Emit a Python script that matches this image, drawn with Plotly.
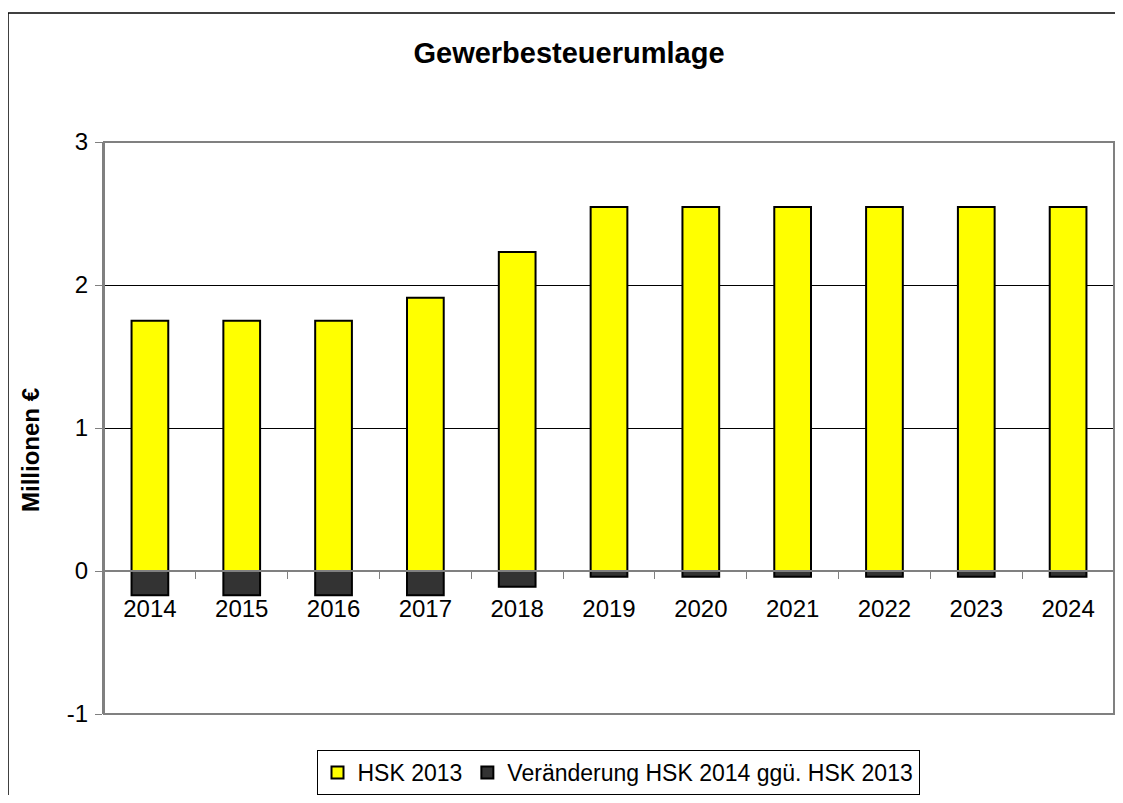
import plotly.graph_objects as go

years = ["2014", "2015", "2016", "2017", "2018", "2019", "2020", "2021", "2022", "2023", "2024"]
hsk2013 = [1.75, 1.75, 1.75, 1.91, 2.23, 2.545, 2.545, 2.545, 2.545, 2.545, 2.545]
change = [-0.17, -0.17, -0.17, -0.17, -0.11, -0.04, -0.04, -0.04, -0.04, -0.04, -0.04]
y_ticks = [-1, 0, 1, 2, 3]

# page body has 8px margin; work in page coordinates and subtract the offset
OFF = 8
W, H = 1123 - 2 * OFF, 803 - 2 * OFF
L, R, T, B = 104 - OFF, 1114 - OFF, 142 - OFF, 714 - OFF
FONT = "Arial, Liberation Sans, sans-serif"

def px_x(px):
    return (px - OFF - L) / (R - L)

def px_y(py):
    return (B - (py - OFF)) / (B - T)

fig = go.Figure()
fig.add_trace(go.Bar(x=years, y=hsk2013, name="HSK 2013",
                     marker=dict(color="#FFFF00", line=dict(color="black", width=2)),
                     width=0.4))
fig.add_trace(go.Bar(x=years, y=change, name="Veränderung HSK 2014 ggü. HSK 2013",
                     marker=dict(color="#333333", line=dict(color="black", width=2)),
                     width=0.4))

ymin, ymax = y_ticks[0], y_ticks[-1]
fig.update_layout(
    width=W, height=H,
    margin=dict(l=L, r=W - R, t=T, b=H - B, autoexpand=False),
    barmode="relative",
    plot_bgcolor="white", paper_bgcolor="white",
    font=dict(family=FONT, size=24, color="black"),
    title=dict(text="<b>Gewerbesteuerumlage</b>", x=(569 - OFF) / W, xanchor="center",
               y=1 - (53 - OFF) / H, yanchor="middle", font=dict(size=29, family=FONT)),
    xaxis=dict(anchor="free", position=(0 - ymin) / (ymax - ymin),
               showline=True, linecolor="#808080", linewidth=1.5,
               ticks="outside", tickson="boundaries", ticklen=7, tickcolor="#808080",
               ticklabelstandoff=16, showgrid=False, tickfont=dict(size=24)),
    yaxis=dict(range=[ymin, ymax], tickvals=y_ticks, ticktext=[str(v) for v in y_ticks],
               showline=True, linecolor="#808080", linewidth=2, ticks="outside", ticklen=7,
               tickcolor="#808080", gridcolor="black", gridwidth=1,
               zeroline=False, tickfont=dict(size=24), ticklabelstandoff=2),
    legend=dict(orientation="h", x=px_x(618), xanchor="center", y=px_y(750), yanchor="top",
                bordercolor="black", borderwidth=1, font=dict(size=23),
                itemwidth=30, tracegroupgap=0),
    showlegend=True,
)

fig.add_annotation(text="<b>Millionen €</b>", xref="paper", yref="paper",
                   x=px_x(30), y=px_y(450), textangle=-90, showarrow=False,
                   xanchor="center", yanchor="middle", font=dict(size=24, family=FONT))

# plot area border
fig.add_shape(type="rect", xref="x domain", yref="y domain", x0=0, x1=1, y0=0, y1=1,
              line=dict(color="#808080", width=2), layer="above")
# outer chart border (top and left)
fig.add_shape(type="line", xref="paper", yref="paper", x0=px_x(8), x1=px_x(1140),
              y0=px_y(13), y1=px_y(13), line=dict(color="black", width=1.5))
fig.add_shape(type="line", xref="paper", yref="paper", x0=px_x(8), x1=px_x(8),
              y0=px_y(13), y1=px_y(820), line=dict(color="black", width=1.5))

fig.write_html("out.html")
